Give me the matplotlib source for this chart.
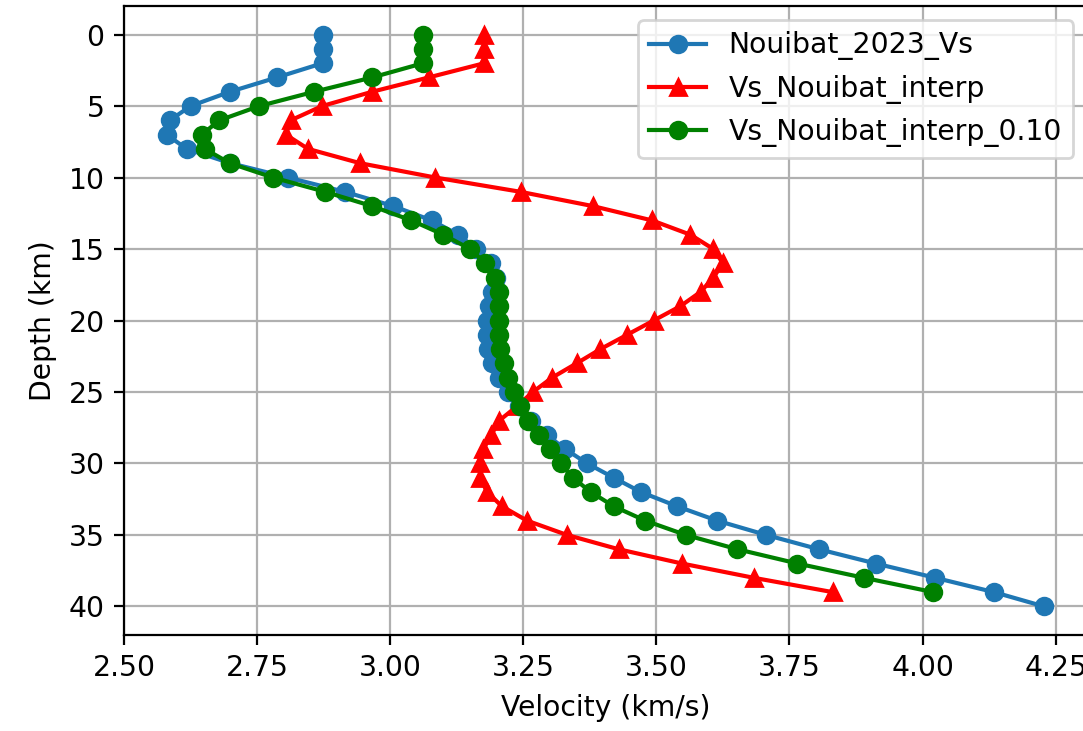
import matplotlib
matplotlib.use("Agg")
import matplotlib.pyplot as plt

# depth samples (km)
depth_ref = [0, 1, 2, 3, 4, 5, 6, 7, 8, 9, 10, 11, 12, 13, 14, 15, 16, 17, 18, 19, 20,
             21, 22, 23, 24, 25, 26, 27, 28, 29, 30, 31, 32, 33, 34, 35, 36, 37, 38, 39, 40]
depth_interp = [0, 1, 2, 3, 4, 5, 6, 7, 8, 9, 10, 11, 12, 13, 14, 15, 16, 17, 18, 19,
                20, 21, 22, 23, 24, 25, 26, 27, 28, 29, 30, 31, 32, 33, 34, 35, 36, 37, 38, 39]

# Vs (km/s)
vs_nouibat = [2.873, 2.873, 2.873, 2.787, 2.699, 2.625, 2.586, 2.580, 2.618, 2.700,
              2.808, 2.915, 3.006, 3.078, 3.128, 3.162, 3.190, 3.198, 3.192, 3.186,
              3.182, 3.181, 3.184, 3.192, 3.205, 3.222, 3.242, 3.265, 3.294, 3.329,
              3.370, 3.420, 3.471, 3.539, 3.614, 3.706, 3.805, 3.912, 4.024, 4.134, 4.228]
vs_interp = [3.177, 3.177, 3.177, 3.072, 2.966, 2.872, 2.813, 2.804, 2.846, 2.944,
             3.085, 3.245, 3.381, 3.492, 3.564, 3.607, 3.625, 3.607, 3.583, 3.545,
             3.495, 3.445, 3.395, 3.350, 3.304, 3.268, 3.238, 3.205, 3.190, 3.175,
             3.169, 3.169, 3.182, 3.210, 3.257, 3.332, 3.429, 3.548, 3.683, 3.831]
vs_interp_010 = [3.062, 3.062, 3.062, 2.966, 2.857, 2.754, 2.679, 2.646, 2.652, 2.699,
                 2.780, 2.878, 2.966, 3.040, 3.100, 3.150, 3.179, 3.197, 3.204, 3.205,
                 3.205, 3.205, 3.207, 3.213, 3.222, 3.233, 3.243, 3.258, 3.279, 3.300,
                 3.320, 3.343, 3.377, 3.420, 3.479, 3.555, 3.652, 3.765, 3.890, 4.020]

plt.rcParams["font.size"] = 10.2

fig = plt.figure(figsize=(5.415, 3.655), dpi=200)
ax = fig.add_axes([124 / 1083, 1 - 635 / 731, 963.6 / 1083, 629 / 731])

ax.plot(vs_nouibat, depth_ref, "o-", color="tab:blue", label="Nouibat_2023_Vs")
ax.plot(vs_interp, depth_interp, "^-", color="r", label="Vs_Nouibat_interp")
ax.plot(vs_interp_010, depth_interp, "o-", color="g", label="Vs_Nouibat_interp_0.10")

ax.set_xlim(2.5, 4.31)
ax.set_ylim(42, -2)
ax.set_xticks([2.50, 2.75, 3.00, 3.25, 3.50, 3.75, 4.00, 4.25])
ax.set_xlabel("Velocity (km/s)")
ax.set_ylabel("Depth (km)")
ax.grid(True)
ax.legend(loc="upper right")

fig.savefig("out.png", dpi=200)
